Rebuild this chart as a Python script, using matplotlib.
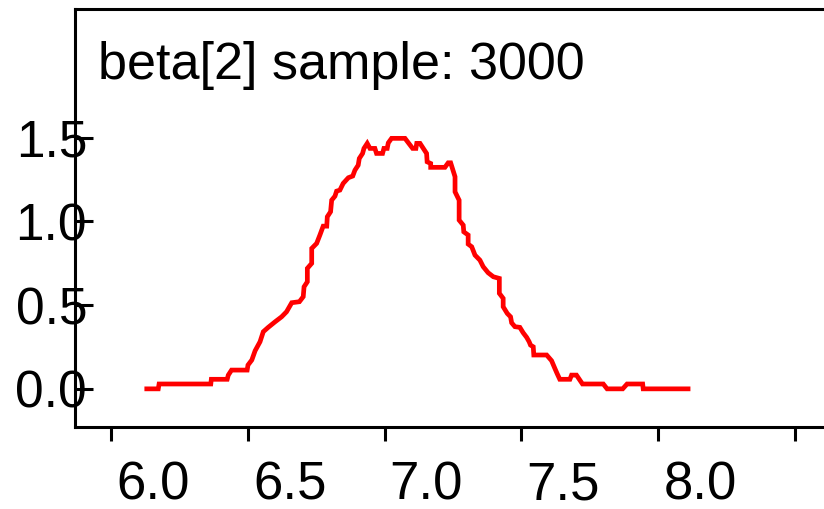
import matplotlib
matplotlib.use("Agg")
import matplotlib.pyplot as plt
import matplotlib.transforms as mtransforms

plt.rcParams['font.family'] = ['Liberation Sans', 'DejaVu Sans']

# beta[2] 的核密度估计
beta_x = [6.130, 6.172, 6.175, 6.364, 6.366, 6.424, 6.428, 6.440, 6.497, 6.500,
          6.514, 6.526, 6.544, 6.556, 6.574, 6.599, 6.623, 6.641, 6.660, 6.688,
          6.702, 6.705, 6.717, 6.717, 6.733, 6.733, 6.751, 6.763, 6.775, 6.788,
          6.790, 6.802, 6.806, 6.818, 6.824, 6.836, 6.848, 6.867, 6.883, 6.891,
          6.903, 6.907, 6.919, 6.924, 6.936, 6.946, 6.964, 6.970, 6.992, 6.997,
          7.009, 7.013, 7.025, 7.074, 7.102, 7.114, 7.117, 7.129, 7.153, 7.155,
          7.168, 7.168, 7.220, 7.232, 7.241, 7.257, 7.257, 7.272, 7.272, 7.287,
          7.289, 7.305, 7.305, 7.318, 7.330, 7.348, 7.360, 7.378, 7.397, 7.419,
          7.419, 7.433, 7.433, 7.448, 7.460, 7.464, 7.476, 7.494, 7.506, 7.519,
          7.528, 7.533, 7.543, 7.545, 7.592, 7.610, 7.622, 7.630, 7.640, 7.677,
          7.683, 7.701, 7.713, 7.723, 7.799, 7.813, 7.870, 7.886, 7.943, 7.945,
          8.109]
beta_density = [0.000, 0.000, 0.029, 0.029, 0.057, 0.057, 0.082, 0.112, 0.112, 0.142,
                0.172, 0.227, 0.281, 0.341, 0.367, 0.400, 0.430, 0.460, 0.514, 0.520,
                0.550, 0.609, 0.639, 0.719, 0.749, 0.838, 0.868, 0.918, 0.971, 0.971,
                1.027, 1.057, 1.126, 1.150, 1.180, 1.186, 1.226, 1.260, 1.270, 1.305,
                1.335, 1.375, 1.405, 1.435, 1.465, 1.435, 1.435, 1.405, 1.405, 1.435,
                1.435, 1.468, 1.495, 1.495, 1.435, 1.435, 1.465, 1.465, 1.405, 1.355,
                1.345, 1.322, 1.322, 1.349, 1.349, 1.266, 1.176, 1.126, 1.007, 0.977,
                0.937, 0.918, 0.864, 0.848, 0.798, 0.768, 0.729, 0.693, 0.669, 0.659,
                0.570, 0.540, 0.490, 0.450, 0.430, 0.394, 0.371, 0.367, 0.335, 0.307,
                0.281, 0.261, 0.251, 0.202, 0.202, 0.168, 0.122, 0.092, 0.057, 0.057,
                0.082, 0.082, 0.053, 0.029, 0.029, 0.000, 0.000, 0.029, 0.029, 0.000,
                0.000]

x_ticks = [6.0, 6.5, 7.0, 7.5, 8.0, 8.5]
x_tick_labels = ['6.0', '6.5', '7.0', '7.5', '8.0', '']
y_ticks = [0.0, 0.5, 1.0, 1.5]
y_tick_labels = ['0.0', '0.5', '1.0', '1.5']
title_text = 'beta[2] sample: 3000'

fig = plt.figure(figsize=(8.24, 5.09), dpi=100)
ax = fig.add_axes([0.0905, 0.161, 0.9095, 0.821])

ax.plot(beta_x, beta_density, color='#ff0000', lw=3.4, solid_joinstyle='miter')

ax.set_xlim(5.866, 8.606)
ax.set_ylim(-0.228, 2.266)

# 坐标轴样式
for side in ['left', 'bottom', 'top']:
    ax.spines[side].set_linewidth(2.2)
ax.spines['right'].set_visible(False)

ax.set_xticks(x_ticks)
ax.set_xticklabels(x_tick_labels)
ax.set_yticks(y_ticks)
ax.set_yticklabels(y_tick_labels)

ax.tick_params(axis='x', direction='out', length=10, width=2.2, pad=14, labelsize=38)
ax.tick_params(axis='y', direction='in', length=13, width=2.2, pad=-9, labelsize=37)

# x 轴标签左对齐，略偏右
offset = mtransforms.ScaledTranslation(5 / 100, 0, fig.dpi_scale_trans)
for lab in ax.get_xticklabels():
    lab.set_ha('left')
    lab.set_transform(lab.get_transform() + offset)

ax.text(0.0316, 0.832, title_text, transform=ax.transAxes, fontsize=37.5,
        ha='left', va='baseline')

fig.savefig('out.png', dpi=100)
